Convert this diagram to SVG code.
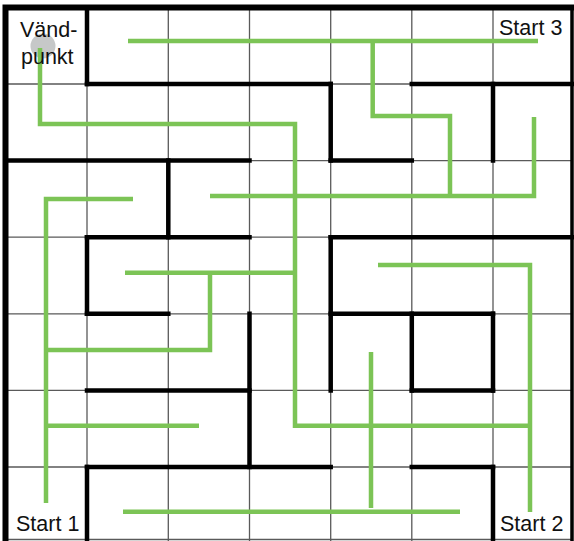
<svg xmlns="http://www.w3.org/2000/svg" width="574" height="541" viewBox="0 0 574 541">
<style>
.grid{stroke:#5a5a5a;stroke-width:1.3;fill:none}
.wall{stroke:#000;stroke-width:4.5;fill:none;stroke-linecap:square}
.outer{stroke:#000;stroke-width:6;fill:none}
.path{stroke:#7cc456;stroke-width:4.5;fill:none;stroke-linejoin:miter;stroke-linecap:butt}
.lbl{font-family:"Liberation Sans",Arial,sans-serif;font-size:21.5px;fill:#111}
</style>
<rect width="574" height="541" fill="#fff"/>
<g id="grid" class="grid">
<path d="M87,7.5V541M168.3,7.5V541M249.5,7.5V541M330.7,7.5V541M411.8,7.5V541M493,7.5V541"/>
<path d="M5.5,84H572M5.5,160.6H572M5.5,237.2H572M5.5,313.8H572M5.5,390.4H572M5.5,467H572M5.5,539.5H572"/>
</g>
<g id="walls">
<path class="outer" d="M2.5,7.5H574M5.5,4.5V541"/>
<path class="wall" d="M572,7.5V541" style="stroke-width:3.5;stroke-linecap:butt"/>
<path class="wall" d="M87,84H330.7M411.8,84H572M5.5,160.6H249.5M330.7,160.6H411.8M87,237.2H249.5M330.7,237.2H572M87,313.8H168.3M330.7,313.8H493M87,390.4H249.5M411.8,390.4H493M87,467H330.7M411.8,467H493"/>
<path class="wall" d="M87,7.5V84M87,237.2V313.8M87,467V541M168.3,160.6V237.2M249.5,313.8V467M330.7,84V160.6M330.7,237.2V390.4M411.8,313.8V390.4M493,84V160.6M493,313.8V390.4M493,467V541"/>
</g>
<g id="turn">
<circle cx="43" cy="46" r="12.5" fill="#c6c8c8"/>
</g>
<g id="connectors" class="path">
<path d="M40,48V124H295V425.7H530"/>
<path d="M378,265H530V512"/>
<path d="M128,41H538"/>
<path d="M372.7,41V116H450V196"/>
<path d="M210,196H534V117"/>
<path d="M133,199H46V503"/>
<path d="M46,350H210V272.7"/>
<path d="M125,272.7H295"/>
<path d="M46,425.7H199"/>
<path d="M123,511.7H460"/>
<path d="M371,352V508"/>
</g>
<g id="labels">
<text class="lbl" x="20" y="36.5">Vänd-</text>
<text class="lbl" x="21" y="63.5">punkt</text>
<text class="lbl" x="499" y="35">Start 3</text>
<text class="lbl" x="16" y="530.5">Start 1</text>
<text class="lbl" x="500" y="530.5">Start 2</text>
</g>
</svg>
